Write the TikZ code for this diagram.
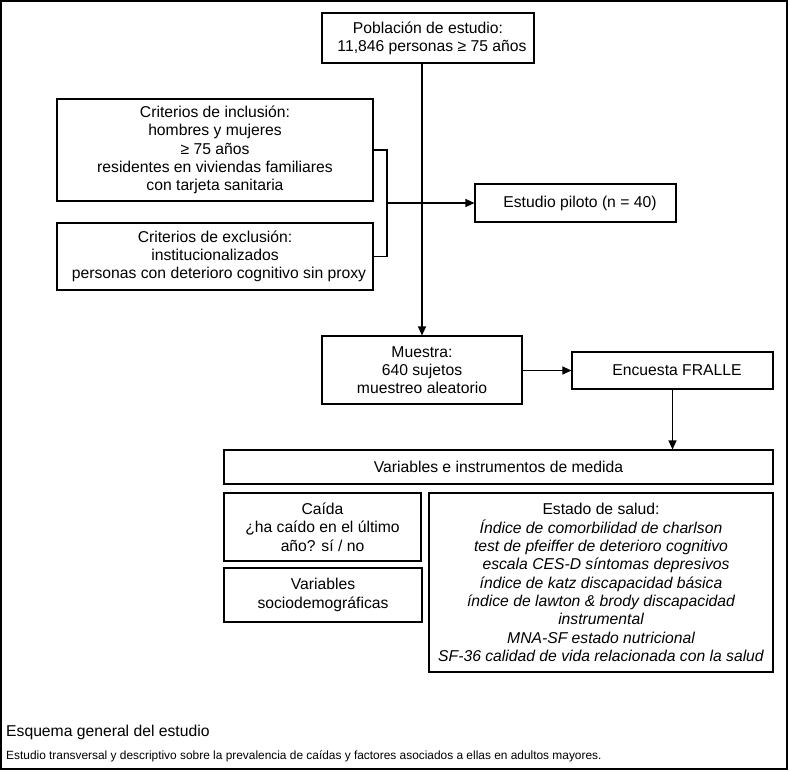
\documentclass[tikz,border=0pt]{standalone}
\usepackage{fontspec}
\setmainfont{Liberation Sans}
\usetikzlibrary{arrows.meta, positioning, calc}

\tikzset{
    caja/.style={draw, line width=1.1pt, align=center, inner sep=0pt, font=\fontsize{15.7}{18.3}\selectfont},
    flecha/.style={line width=1.1pt, -{Triangle[length=9pt, width=8pt]}},
    linea/.style={line width=1.1pt}
}

\begin{document}
\begin{tikzpicture}[x=1pt, y=-1pt]
    \useasboundingbox (0,0) rectangle (789,771);
    \draw[line width=1.3pt] (1,1) rectangle (787,769);

    \node[caja, minimum width=212pt, minimum height=50pt] (pob) at (428,38)
        {Población de estudio:\\ \hspace*{8pt}11,846 personas ≥ 75 años};
    \node[caja, minimum width=316pt, minimum height=102pt] (incl) at (215,150)
        {Criterios de inclusión:\\ hombres y mujeres\\ ≥ 75 años\\ residentes en viviendas familiares\\ con tarjeta sanitaria};
    \node[caja, minimum width=316pt, minimum height=67pt] (excl) at (215,256.5)
        {Criterios de exclusión:\\ institucionalizados\\ \hspace*{8pt}personas con deterioro cognitivo sin proxy};
    \node[caja, minimum width=201pt, minimum height=38pt] (piloto) at (575.5,203)
        {\hspace*{9pt}Estudio piloto (n = 40)};
    \node[caja, minimum width=200pt, minimum height=68pt] (muestra) at (422,370)
        {Muestra:\\ 640 sujetos\\ muestreo aleatorio};
    \node[caja, minimum width=201pt, minimum height=37pt] (encuesta) at (672.5,370.5)
        {\hspace*{9pt}Encuesta FRALLE};
    \node[caja, minimum width=549pt, minimum height=34pt] (vars) at (498.5,467)
        {Variables e instrumentos de medida};
    \node[caja, minimum width=197pt, minimum height=68pt] (caida) at (322.5,527)
        {Caída\\ ¿ha caído en el último\\ año? sí / no};
    \node[caja, minimum width=198pt, minimum height=54pt] (socio) at (323,595)
        {Variables\\ sociodemográficas};
    \node[caja, minimum width=344pt, minimum height=179pt] (salud) at (601,582.5)
        {Estado de salud:\\ \itshape Índice de comorbilidad de charlson\\ \itshape test de pfeiffer de deterioro cognitivo\\ \itshape \hspace*{10pt}escala CES-D síntomas depresivos\\ \itshape índice de katz discapacidad básica\\ \itshape índice de lawton \& brody discapacidad\\ \itshape instrumental\\ \itshape MNA-SF estado nutricional\\ \itshape SF-36 calidad de vida relacionada con la salud};

    \coordinate (brk) at (387,203);
    \draw[linea] (incl.east) -| (brk) |- (excl.east);
    \draw[flecha] (brk) -- (piloto.west);
    \draw[flecha] (muestra.north |- pob.south) -- (muestra.north);
    \draw[flecha] (muestra.east |- encuesta.west) -- (encuesta.west);
    \draw[flecha] (encuesta.south) -- (encuesta.south |- vars.north);

    \node[anchor=west, inner sep=0pt, font=\fontsize{15.7}{18}\selectfont] (titulo) at (6,732)
        {Esquema general del estudio};
    \node[anchor=west, inner sep=0pt, font=\fontsize{11.9}{14}\selectfont] (pie) at (6,756)
        {Estudio transversal y descriptivo sobre la prevalencia de caídas y factores asociados a ellas en adultos mayores.};
\end{tikzpicture}
\end{document}
